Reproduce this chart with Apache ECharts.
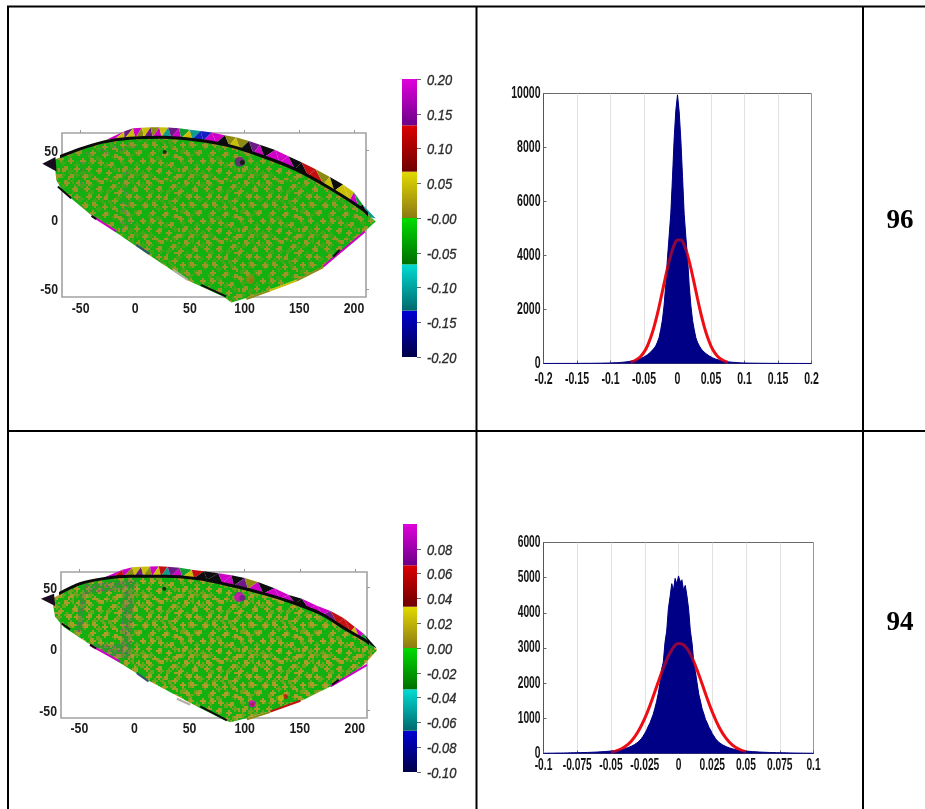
<!DOCTYPE html>
<html>
<head>
<meta charset="utf-8">
<style>html,body{margin:0;padding:0;background:#fff}#c{width:925px;height:809px;filter:blur(0.55px)}</style>
<script src="https://cdn.jsdelivr.net/npm/echarts@6/dist/echarts.min.js"></script>
</head>
<body>
<div id="c"></div>
<script>
// ---------- tick labels and scales
const mapXTicks = [-50, 0, 50, 100, 150, 200];
const mapYTicks = [-50, 0, 50];
const topBarLevels = [-0.2, -0.1333, -0.0667, 0, 0.0667, 0.1333, 0.2];
const topBarTicks = [-0.2, -0.15, -0.1, -0.05, 0, 0.05, 0.1, 0.15, 0.2];
const topBarLabels = ['-0.20', '-0.15', '-0.10', '-0.05', '-0.00', '0.05', '0.10', '0.15', '0.20'];
const botBarLevels = [-0.1, -0.0667, -0.0333, 0, 0.0333, 0.0667, 0.1];
const botBarTicks = [-0.1, -0.08, -0.06, -0.04, -0.02, 0, 0.02, 0.04, 0.06, 0.08];
const botBarLabels = ['-0.10', '-0.08', '-0.06', '-0.04', '-0.02', '0.00', '0.02', '0.04', '0.06', '0.08'];
const barColors = [['#000048', '#0000d4'], ['#00686e', '#00dcd2'], ['#006e00', '#00dc00'], ['#8c7a12', '#e2da00'], ['#6e0000', '#dc0000'], ['#6c0088', '#e000dc']];
const rowLabels = ['96', '94'];
const histTopXTicks = [-0.2, -0.15, -0.1, -0.05, 0, 0.05, 0.1, 0.15, 0.2];
const histTopXLabels = ['-0.2', '-0.15', '-0.1', '-0.05', '0', '0.05', '0.1', '0.15', '0.2'];
const histTopYTicks = [0, 2000, 4000, 6000, 8000, 10000];
const histBotXTicks = [-0.1, -0.075, -0.05, -0.025, 0, 0.025, 0.05, 0.075, 0.1];
const histBotXLabels = ['-0.1', '-0.075', '-0.05', '-0.025', '0', '0.025', '0.05', '0.075', '0.1'];
const histBotYTicks = [0, 1000, 2000, 3000, 4000, 5000, 6000];

// ---------- top map (x, y in plot units)
const topBody = [[-73.9,43.4],[-51,51.1],[-29.6,56.2],[-5.2,59],[25.3,59.8],[55.9,57.8],[86.4,53.5],[116.9,45.8],[147.4,36.2],[178,22.9],[208.5,7.2],[219.8,-1.2],[208.5,-9.6],[187.1,-24.1],[171.9,-33.7],[147.4,-43.4],[123,-50.6],[101.6,-56.6],[87.9,-59.8],[80.3,-55.4],[46.7,-43.4],[10.1,-24.1],[-38.8,2.4],[-66.2,20.5],[-72.3,28.9]];
const topArc = [[-74,44],[-51,51.1],[-29.6,56.2],[-5.2,59],[25.3,59.8],[55.9,57.8],[86.4,53.5],[116.9,45.8],[147.4,36.2],[178,22.9],[208.5,7.2],[217,0]];
const topTip = [[-85,40.5],[-73,45.5],[-72,35]];
const topFringe = [[-35,55],[-25,58.5],[-20,57.5],[-10,64],[-10,58.5],[-2,66.3],[0,59.2],[6,66.6],[8,59.5],[14,66.9],[16,59.7],[22,67],[24,59.8],[30,66.7],[33,59.6],[40,66.3],[42,59],[50,65.2],[52,58.2],[60,64.2],[62,57],[70,63.2],[74,55.6],[82,61.2],[86,53.5],[92,59.8],[96,51],[104,57],[108,48],[114,54.3],[118,45.5],[128,50.5],[132,41.5],[140,46],[146,36.6],[152,41.6],[158,32],[165,36.5],[172,26],[178,31],[182,21],[190,25.5],[196,14],[200,20],[204,9.5],[208,11],[214,2],[220,1]];
const topFringeColors = 'OMYPYMOYPOMYTPMGYTBBMMKOYOKPMKMMMKKRROYKYYMGKTK';
const topStrips = [[[-48.5,43.4],[-44.9,43.4],[-49.5,14.5],[-54,15.7]],[[-44.9,49.4],[0.9,56.6],[0.9,51.8],[-44.9,44.6]],[[-11.3,38.6],[-5.2,38.6],[-3.7,-7.2],[-12.8,-7.2]]];
const topEdges = [[-70.8,24.1,-58.6,15.7,'K'],[-38.8,2.4,-17.4,-8.4,'M'],[-40,2.9,-35.7,0.5,'K'],[0.9,-18.1,13,-24.6,'S'],[34.5,-36,48,-43.4,'A'],[60,-47,83,-55.4,'K'],[210,-8.4,171.9,-33.7,'M'],[187,-21.7,181,-26.5,'K'],[101.6,-57.2,123,-51.2,'O'],[123,-51.2,147.4,-44,'Y'],[147.4,-44,172,-34.2,'O']];
const topSpots = [[26.9,49,4,'K'],[95.5,42,10,'P'],[98,41.5,5,'K'],[106,-44,5,'R'],[105,-43,9,'O']];

// ---------- bottom map
const botBody = [[-75,41],[-49.4,53.2],[-28.2,57.3],[-3.9,59.2],[26.4,59.2],[56.7,57.3],[87,51.9],[117.3,45.1],[141.5,38.4],[168.8,28.9],[193,15.4],[211.2,5.9],[220.3,-0.8],[208.2,-13],[193,-22.4],[177.9,-30.5],[153.6,-41.4],[123.3,-50.8],[102.1,-56.2],[87,-59.7],[80.9,-57.6],[56.7,-46.8],[14.2,-26.5],[-37.3,1.9],[-64.5,18.1],[-72.1,26.2]];
const botArc = [[-75,42],[-49.4,53.2],[-28.2,57.3],[-3.9,59.2],[26.4,59.2],[56.7,57.3],[87,51.9],[117.3,45.1],[141.5,38.4],[168.8,28.9],[193,15.4],[211.2,5.9],[218,0]];
const botTip = [[-85,41],[-73,45],[-72,35]];
const botFringe = [[-36,54.5],[-27,58.5],[-20,57.8],[-11,64.5],[-10,58.7],[-2,66.6],[0,59.2],[6,67],[8,59.3],[14,67.2],[16,59.3],[22,67.3],[24,59.3],[30,67],[33,59],[41,66.2],[43,58.5],[52,64.5],[54,57.6],[63,63.4],[66,56.3],[76,61.6],[80,53.5],[88,60],[90,51.5],[100,57.8],[103,48.8],[112,54.6],[117,45.2],[127,49.4],[132,41],[140,44],[146,37],[152,41],[158,33],[165,35.5],[171,28],[178,31],[184,20.6],[190,25],[196,14],[200,18],[204,9.5],[208,12.5],[214,3],[220,0.5]];
const botFringeColors = 'MMRMOYPYOMYRTPMGYRKKKMMKPOMKMMMKKMMMPRRRYMGKTK';
const botStrips = [[[-49.4,45.1],[-43.9,45.1],[-47.9,12.7],[-53,14]],[[-46.4,51.9],[0.6,57.3],[0.6,49.2],[-46.4,44.6]],[[-10.6,47.8],[-0.3,47.8],[-3.3,-7.6],[-12.4,-7.6]],[[-39.7,3.8],[-10,3.8],[-10,-7.6],[-21,-6.2]]];
const botEdges = [[-66,20.8,-58.5,16,'K'],[-40.3,3.2,-13,-10.3,'M'],[-40.3,3.6,-35,0.4,'K'],[2.1,-19.7,12.7,-26.5,'S'],[38.5,-40.5,50.6,-45.4,'A'],[59.7,-46.8,83.9,-58.1,'K'],[211,-13,177.9,-30.5,'M'],[185.5,-25,179.4,-29,'K'],[102,-57.2,123,-51.4,'O'],[123.3,-51,150.6,-42.2,'R']];
const botSpots = [[27,49,4,'K'],[95,42.4,10,'M'],[98,41.8,6,'P'],[106.7,-44.6,7,'M'],[107,-45,3,'R'],[137,-38.6,5,'R'],[133,-40,6,'Y']];

// ---------- histograms: bin counts, left to right
const histTopY = [
 2,2,2,3,2,2,3,2,3,3, 3,3,4,3,4,4,4,5,4,5, 5,6,5,6,7,6,7,8,8,9, 9,10,11,11,12,13,15,15,17,18,
 20,22,26,28,30,35,40,45,50,58, 65,76,85,96,112,126,140,160,186,212, 240,282,320,372,425,480,565,650,790,960,
 1260,1610,2160,2920,3890,4720,5560,6880,8320,9370,
 9950,
 9320,8280,6920,5520,4680,3920,2880,2140,1590,1240, 945,775,655,555,475,415,365,318,278,238,
 208,183,158,142,124,108,94,86,74,64, 57,49,45,39,36,31,27,25,21,20,
 18,16,15,14,12,12,11,10,9,9, 8,8,7,7,6,6,5,6,5,5, 5,4,4,4,4,3,3,3,3,3, 3,3,2,3,2,2,2,2,2,2];
const histBotY = [
 7,8,8,9,9,10,10,11,12,12, 13,14,15,16,17,18,19,20,21,22, 23,24,25,26,27,28,30,32,34,36, 38,40,42,45,48,51,54,58,62,66,
 70,77,81,89,94,103,111,121,136,149, 166,184,206,229,256,284,322,368,423,488, 572,655,765,858,985,1115,1285,1475,1705,1995,
 2400,2600,3160,3480,4120,4460,4830,4640,4980,4820,
 5050,
 4880,4940,4640,4780,4480,4100,3500,3150,2620,2330, 2010,1690,1490,1270,1130,970,870,750,670,565,
 495,415,375,315,290,250,235,200,190,160, 152,132,124,108,104,93,90,80,78,68,
 67,61,59,53,52,47,46,41,41,37, 37,33,33,29,29,26,27,24,25,22, 23,20,21,18,19,16,17,14,15,12, 13,11,12,10,10,9,9,8,8,7];
const fitTopX = [-0.07,-0.065,-0.06,-0.055,-0.05,-0.045,-0.04,-0.035,-0.03,-0.025,-0.02,-0.015,-0.01,-0.005,0,0.005,0.01,0.015,0.02,0.025,0.03,0.035,0.04,0.045,0.05,0.055,0.06,0.065,0.07,0.075];
const fitTopY = [48,88,155,261,420,648,960,1358,1838,2387,2966,3525,4016,4381,4575,4575,4381,4016,3525,2966,2387,1838,1358,960,648,420,261,155,88,48];
const fitBotX = [-0.05,-0.045,-0.04,-0.035,-0.03,-0.025,-0.02,-0.015,-0.01,-0.005,0,0.005,0.01,0.015,0.02,0.025,0.03,0.035,0.04,0.045,0.05];
const fitBotY = [39,88,183,350,617,999,1486,2030,2550,2945,3125,3047,2729,2248,1700,1183,755,443,239,119,54];

// ---------- surface texture: brown mottling on the green map
const fleckRows = [
"..##.....#...##....###...#....","..###...##...###....##.......#","...#.....#....#...........##..",".......#.....#.....##....###..",
"#.....###...###...###.....#...","##.....##....#.....#.........#","#..........................###","....##..#.....##...#...#.....#",
"...###.###...###..###.##......","....#...#.....#....#..##...#..","..........................###.",".#...##.....#...##.........#..",
"###..###...###..###...#.......",".#....#.....##...#...###...#..","......................#...###.","...#.....##.....#...........#.",
"..###...###....###....##......","...##....#......#....###...##.","#.....................#....###","##...#.....#...##............#",
"#...###...###..###..#.........",".....#.....#....#..###...##...","....................#...###...","..##....#.....#..........#....",
".###...###...###...##........#",".##.....#.....#...###...#....#","...................#...###....","#....##.....##..........#...##",
"#...###....###...#.........###","....#.......#...###...##....#."];
const dotCells = [[2,2],[6,5],[10,1],[13,6],[17,3],[1,9],[5,12],[9,9],[14,13],[18,10]];

const palette = {M:'#d000c8', P:'#6e1a86', Y:'#c9bf06', O:'#8d8a12', K:'#0c0c10', R:'#c41010', B:'#1420c4', T:'#0e9c8e', G:'#12a030', S:'#35506e', A:'#b4aea4'};

function tile(base, color, alphaA, alphaB) {
  const cell = 2, n = fleckRows.length, size = n * cell;
  const cv = document.createElement('canvas');
  cv.width = cv.height = size;
  const g = cv.getContext('2d');
  g.fillStyle = base; g.fillRect(0, 0, size, size);
  g.filter = 'blur(0.7px)';
  g.fillStyle = color;
  fleckRows.forEach((row, r) => row.split('').forEach((ch, c) => {
    if (ch !== '#') return;
    g.globalAlpha = alphaA;
    g.fillRect(c * cell, r * cell, cell, cell);
    g.globalAlpha = alphaB;
    g.fillRect(((r + 7) % n) * cell, ((c + 13) % n) * cell, cell, cell);
  }));
  return cv;
}
function dotTile(n, color, wash) {
  const cv = document.createElement('canvas');
  cv.width = cv.height = 20;
  const g = cv.getContext('2d');
  g.fillStyle = wash; g.fillRect(0, 0, 20, 20);
  dotCells.slice(0, n).forEach((d, i) => {
    g.fillStyle = color[i % color.length];
    g.fillRect(d[0], d[1], 2, 2);
  });
  return cv;
}
const texTop = tile('#12b010', '#b0902a', 0.85, 0.3);
const texBot = tile('#12b010', '#b89a2a', 0.9, 0.55);
const stripTop = dotTile(7, ['#7a7a6a', '#8c7a40', '#64705c'], 'rgba(110,120,90,0.08)');
const stripBot = dotTile(10, ['#6c6c70', '#8a5a6a', '#5a6e5a', '#807060'], 'rgba(100,100,100,0.28)');

const sansFont = '"Liberation Sans",Arial,sans-serif';
const grids = [], xAxes = [], yAxes = [], series = [];
const noLine = {show: false, onZero: false};
const noSplit = {show: false};

function polygon(pts, api, style) {
  return {type: 'polygon', shape: {points: pts.map(p => api.coord(p))}, style};
}
// Tick labels squeezed to the reference's condensed look, placed through the axes.
function addTickText(name, xi, yi, items, t) {
  const font = (t.font || 'bold') + ' ' + t.size + 'px ' + sansFont;
  series.push({type: 'custom', name: name + ' tick labels', coordinateSystem: 'cartesian2d', xAxisIndex: xi, yAxisIndex: yi, silent: true, animation: false, clip: false, z: 12,
    data: items.map(it => [it.x, it.y]),
    renderItem: (p, api) => {
      const it = items[p.dataIndex];
      const pos = api.coord([api.value(0), api.value(1)]);
      const style = {text: it.text, font, fill: t.color, textAlign: it.align, textVerticalAlign: 'middle'};
      if (t.stroke) { style.stroke = t.stroke; style.lineWidth = t.strokeWidth; }
      return {type: 'text', x: pos[0] + it.dx, y: pos[1] + it.dy, scaleX: t.scale, style};
    }});
}
function tickItems(cfg) {
  const items = [];
  cfg.xTicks.forEach((v, i) => items.push({x: v, y: cfg.yBase, text: cfg.xLabels[i], align: 'center', dx: 0, dy: cfg.xDy}));
  cfg.yTicks.forEach((v, i) => items.push({x: cfg.xBase, y: v, text: cfg.yLabels[i], align: 'right', dx: cfg.yDx, dy: cfg.yDy}));
  return items;
}
function addMap(cfg) {
  const gi = grids.length;
  grids.push({show: true, left: cfg.left, top: cfg.top, width: cfg.width, height: cfg.height, borderColor: '#a2a2a2', borderWidth: 1.6, backgroundColor: '#fff'});
  const xi = xAxes.length, yi = yAxes.length;
  const grey = {show: true, length: 3, lineStyle: {color: '#9a9a9a', width: 1}};
  xAxes.push({gridIndex: gi, type: 'value', min: cfg.xRange[0], max: cfg.xRange[1], position: 'bottom', axisLine: noLine, splitLine: noSplit, axisTick: {show: false}, axisLabel: {show: false}});
  xAxes.push({gridIndex: gi, type: 'value', min: cfg.xRange[0], max: cfg.xRange[1], position: 'top', axisLine: noLine, splitLine: noSplit,
    axisTick: Object.assign({customValues: mapXTicks}, grey), axisLabel: {show: false}});
  yAxes.push({gridIndex: gi, type: 'value', min: cfg.yRange[0], max: cfg.yRange[1], position: 'left', axisLine: noLine, splitLine: noSplit, axisTick: {show: false}, axisLabel: {show: false}});
  yAxes.push({gridIndex: gi, type: 'value', min: cfg.yRange[0], max: cfg.yRange[1], position: 'right', axisLine: noLine, splitLine: noSplit,
    axisTick: Object.assign({customValues: mapYTicks}, grey), axisLabel: {show: false}});
  const base = {xAxisIndex: xi, yAxisIndex: yi, coordinateSystem: 'cartesian2d', silent: true, animation: false, clip: false};
  const tris = cfg.fringe.slice(0, -2).map((p, i) => [p, cfg.fringe[i + 1], cfg.fringe[i + 2], cfg.fringeColors[i % cfg.fringeColors.length]]);
  series.push(Object.assign({type: 'custom', name: cfg.name + ' fringe', z: 3, data: tris.map((t, i) => [i]),
    renderItem: (p, api) => polygon(tris[p.dataIndex].slice(0, 3), api, {fill: palette[tris[p.dataIndex][3]]})}, base));
  series.push(Object.assign({type: 'custom', name: cfg.name + ' surface', z: 4, data: [[0]],
    renderItem: (p, api) => polygon(cfg.body, api, {fill: {image: cfg.tex, repeat: 'repeat'}})}, base));
  series.push(Object.assign({type: 'custom', name: cfg.name + ' strips', z: 5, data: cfg.strips.map((s, i) => [i]),
    renderItem: (p, api) => polygon(cfg.strips[p.dataIndex], api, {fill: {image: cfg.stripTex, repeat: 'repeat'}})}, base));
  series.push(Object.assign({type: 'custom', name: cfg.name + ' edges', z: 6, data: cfg.edges.map((e, i) => [i]),
    renderItem: (p, api) => {
      const e = cfg.edges[p.dataIndex], a = api.coord([e[0], e[1]]), b = api.coord([e[2], e[3]]);
      return {type: 'line', shape: {x1: a[0], y1: a[1], x2: b[0], y2: b[1]}, style: {stroke: palette[e[4]], lineWidth: 2}};
    }}, base));
  series.push(Object.assign({type: 'custom', name: cfg.name + ' tip', z: 7, data: [[0]],
    renderItem: (p, api) => polygon(cfg.tip, api, {fill: '#1a0c20'})}, base));
  series.push(Object.assign({type: 'scatter', name: cfg.name + ' spots', z: 7, data: cfg.spots.map(s => [s[0], s[1]]),
    symbolSize: (v, p) => cfg.spots[p.dataIndex][2], itemStyle: {color: p => palette[cfg.spots[p.dataIndex][3]]}}, base));
  series.push(Object.assign({type: 'line', name: cfg.name + ' arc', z: 8, data: cfg.arc, showSymbol: false, symbol: 'none', smooth: 0.3,
    lineStyle: {color: '#0a0a0c', width: 3}}, base));
  addTickText(cfg.name, xi, yi, tickItems({xTicks: mapXTicks, xLabels: mapXTicks.map(String), yBase: cfg.yRange[0], xDy: cfg.xDy,
    yTicks: mapYTicks, yLabels: mapYTicks.map(String), xBase: cfg.xRange[0], yDx: -4, yDy: 1}), {size: 15, scale: 0.82, color: '#1c1c1c'});
}
function addBar(cfg) {
  const gi = grids.length;
  grids.push({left: cfg.left, top: cfg.top, width: cfg.width, height: cfg.height});
  const xi = xAxes.length, yi = yAxes.length;
  xAxes.push({gridIndex: gi, type: 'value', min: 0, max: 1, show: false});
  yAxes.push({gridIndex: gi, type: 'value', min: cfg.levels[0], max: cfg.levels[6], position: 'right', splitLine: noSplit, axisLine: noLine,
    axisTick: {show: true, length: 4, customValues: cfg.ticks, lineStyle: {color: '#666'}}, axisLabel: {show: false}});
  const rows = cfg.levels.slice(0, -1).map((l, i) => [l, cfg.levels[i + 1], i]);
  series.push({type: 'custom', name: cfg.name, coordinateSystem: 'cartesian2d', xAxisIndex: xi, yAxisIndex: yi, silent: true, animation: false, z: 3, data: rows,
    renderItem: (p, api) => {
      const lo = api.coord([0, api.value(0)]), hi = api.coord([1, api.value(1)]);
      const c = barColors[api.value(2)];
      return {type: 'rect', shape: {x: lo[0], y: hi[1], width: hi[0] - lo[0], height: lo[1] - hi[1]},
        style: {fill: new echarts.graphic.LinearGradient(0, 0, 0, 1, [{offset: 0, color: c[1]}, {offset: 1, color: c[0]}])}};
    }});
  addTickText(cfg.name, xi, yi, cfg.ticks.map((v, i) => ({x: 1, y: v, text: cfg.labels[i], align: 'left', dx: 10, dy: 2})),
    {font: 'italic', size: 14, scale: 0.92, color: '#2c2c2c', stroke: '#2c2c2c', strokeWidth: 0.35});
}
function addHist(cfg) {
  const gi = grids.length;
  grids.push({show: true, left: cfg.left, top: cfg.top, width: cfg.width, height: cfg.height, borderColor: '#6a6a6a', borderWidth: 1, backgroundColor: '#fff'});
  const xi = xAxes.length, yi = yAxes.length;
  xAxes.push({gridIndex: gi, type: 'value', min: cfg.xMin, max: -cfg.xMin, interval: cfg.xStep, axisLine: {show: true, onZero: false, lineStyle: {color: '#555'}},
    axisTick: {inside: true, length: 3, lineStyle: {color: '#666'}},
    splitLine: {show: true, lineStyle: {type: 'dotted', color: '#c4c4c4', width: 1}}, axisLabel: {show: false}});
  yAxes.push({gridIndex: gi, type: 'value', min: 0, max: cfg.yMax, interval: cfg.yStep, axisLine: {show: true, onZero: false, lineStyle: {color: '#555'}},
    axisTick: {inside: true, length: 3, lineStyle: {color: '#666'}}, splitLine: noSplit, axisLabel: {show: false}});
  const bw = -2 * cfg.xMin / (cfg.hist.length - 1);
  const bins = cfg.hist.map((y, i) => [+(cfg.xMin + i * bw).toFixed(5), y]);
  const common = {type: 'line', xAxisIndex: xi, yAxisIndex: yi, animation: false, silent: true, showSymbol: false, symbol: 'none'};
  series.push(Object.assign({name: cfg.name + ' histogram', z: 3, data: bins, lineStyle: {color: '#000087', width: 1}, areaStyle: {color: '#000087', opacity: 1}}, common));
  series.push(Object.assign({name: cfg.name + ' fit', z: 4, smooth: 0.4, lineStyle: {color: '#ee0d12', width: 3}, data: cfg.fitX.map((x, i) => [x, cfg.fitY[i]])}, common));
  // the red curve is seen dimmed through the dark histogram
  series.push(Object.assign({name: cfg.name + ' histogram veil', z: 5, data: bins, lineStyle: {width: 0, opacity: 0}, areaStyle: {color: '#000087', opacity: 0.4}}, common));
  addTickText(cfg.name, xi, yi, tickItems({xTicks: cfg.xTicks, xLabels: cfg.xLabels, yBase: 0, xDy: cfg.xDy,
    yTicks: cfg.yTicks, yLabels: cfg.yTicks.map(String), xBase: cfg.xMin, yDx: -3, yDy: 0}), {size: cfg.size, scale: cfg.scale, color: '#141414'});
}

addMap({name: 'map 96', left: 62, top: 133, width: 304, height: 164, xRange: [-67, 211], yRange: [-55.8, 62.8], xDy: 12, body: topBody, arc: topArc, tip: topTip, fringe: topFringe, fringeColors: topFringeColors, strips: topStrips, edges: topEdges, spots: topSpots, tex: texTop, stripTex: stripTop});
addBar({name: 'colorbar 96', left: 402, top: 79, width: 15, height: 278, levels: topBarLevels, ticks: topBarTicks, labels: topBarLabels});
addHist({name: '96', left: 543.5, top: 93.5, width: 268, height: 270, xMin: -0.2, xStep: 0.05, yMax: 10000, yStep: 2000, xDy: 16, size: 17, scale: 0.62, xTicks: histTopXTicks, xLabels: histTopXLabels, yTicks: histTopYTicks, hist: histTopY, fitX: fitTopX, fitY: fitTopY});
addMap({name: 'map 94', left: 61, top: 572, width: 306, height: 146, xRange: [-66.7, 211], yRange: [-56.2, 62.7], xDy: 11, body: botBody, arc: botArc, tip: botTip, fringe: botFringe, fringeColors: botFringeColors, strips: botStrips, edges: botEdges, spots: botSpots, tex: texBot, stripTex: stripBot});
addBar({name: 'colorbar 94', left: 403, top: 524, width: 14, height: 248, levels: botBarLevels, ticks: botBarTicks, labels: botBarLabels});
addHist({name: '94', left: 543.5, top: 542.5, width: 270, height: 211, xMin: -0.1, xStep: 0.025, yMax: 6000, yStep: 1000, xDy: 12.5, size: 16, scale: 0.64, xTicks: histBotXTicks, xLabels: histBotXLabels, yTicks: histBotYTicks, hist: histBotY, fitX: fitBotX, fitY: fitBotY});

const rule = (x1, y1, x2, y2) => ({type: 'line', silent: true, z: 20, shape: {x1, y1, x2, y2}, style: {stroke: '#000', lineWidth: 2}});
const cellText = (text, y) => ({type: 'text', silent: true, z: 20, x: 900, y, style: {text, fill: '#000', font: 'bold 27px "Liberation Serif","Times New Roman",serif', textAlign: 'center', textVerticalAlign: 'middle'}});

const chart = echarts.init(document.getElementById('c'), null, {renderer: 'canvas'});
chart.setOption({
  animation: false,
  backgroundColor: '#fff',
  grid: grids, xAxis: xAxes, yAxis: yAxes, series,
  graphic: [
    rule(7, 6.5, 925, 6.5), rule(7, 431, 925, 431),
    rule(8, 6, 8, 809), rule(476.5, 6, 476.5, 809), rule(863, 6, 863, 809),
    cellText(rowLabels[0], 221), cellText(rowLabels[1], 623)
  ]
});
</script>
</body>
</html>
